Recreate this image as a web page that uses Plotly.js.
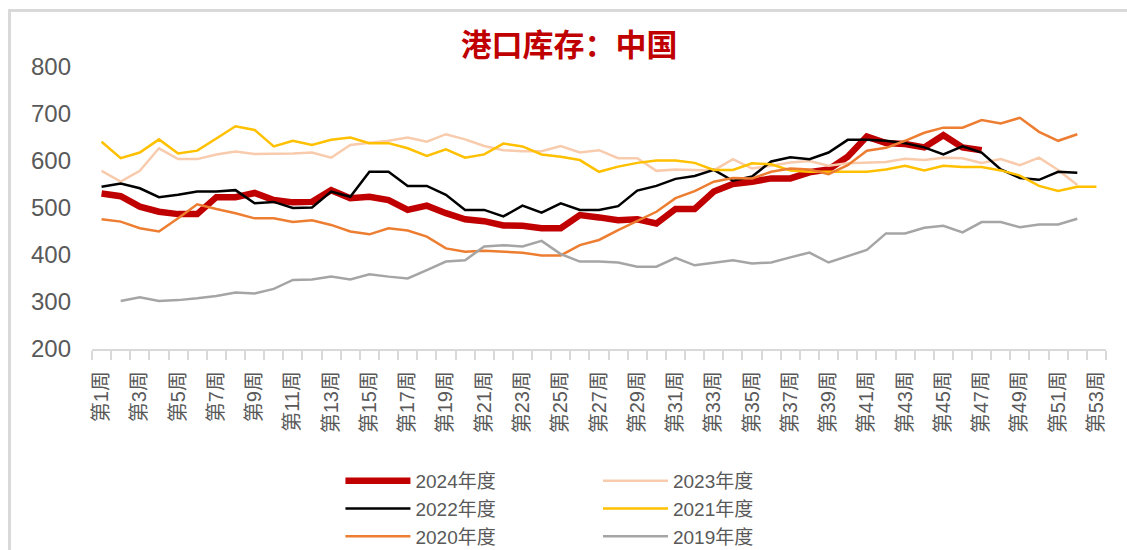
<!DOCTYPE html>
<html>
<head>
<meta charset="utf-8">
<script src="https://cdn.plot.ly/plotly-3.0.1.min.js"></script>
<style>
  body { margin: 0; background: #fff; }
  #frame { position: absolute; left: 8px; top: 9px; width: 1200px; height: 700px;
           border-top: 3px solid #D9D9D9; border-left: 3px solid #D9D9D9; }
  #chart { position: absolute; left: 0; top: 0; width: 1127px; height: 550px; }
</style>
</head>
<body>
<div id="frame"></div>
<div id="chart"></div>
<script>
// 周次 1..53
const weeks = Array.from({ length: 53 }, (_, i) => i + 1);
const weekLabels = weeks.map(w => '第' + w + '周');

const y2024 = [531, 525, 503, 492, 487, 487, 523, 523, 532, 517, 512, 513, 538, 521, 524, 517, 496, 505, 489, 476,
  472, 463, 462, 457, 457, 485, 480, 474, 476, 467, 498, 498, 535, 551, 556, 563, 563, 576, 582, 609,
  652, 638, 636, 629, 655, 629, 623];
const y2023 = [579, 556, 579, 627, 604, 604, 614, 620, 615, 615, 616, 618, 607, 634, 638, 643, 650, 641, 657, 646,
  632, 623, 621, 621, 632, 618, 623, 606, 606, 579, 582, 581, 580, 604, 584, 590, 597, 600, 590, 595,
  597, 598, 605, 602, 607, 606, 596, 604, 591, 607, 581, 549];
const y2022 = [545, 552, 542, 523, 528, 535, 535, 538, 510, 513, 500, 501, 535, 524, 577, 577, 547, 547, 528, 496,
  496, 482, 505, 490, 510, 496, 496, 504, 537, 547, 562, 568, 581, 558, 567, 599, 608, 604, 618, 645,
  645, 643, 638, 629, 614, 631, 618, 582, 564, 560, 577, 575];
const y2021 = [641, 606, 618, 646, 616, 622, 648, 674, 666, 631, 643, 634, 645, 650, 638, 638, 627, 611, 625, 607,
  614, 637, 631, 614, 609, 602, 577, 588, 596, 601, 601, 596, 581, 581, 595, 593, 580, 577, 577, 577,
  577, 582, 590, 580, 590, 587, 587, 580, 569, 547, 536, 545, 545];
const y2020 = [476, 471, 457, 450, 478, 508, 498, 489, 478, 478, 470, 474, 464, 450, 444, 457, 452, 439, 414, 407,
  409, 407, 405, 399, 399, 421, 432, 453, 472, 492, 521, 536, 556, 564, 563, 577, 584, 582, 572, 591,
  622, 628, 643, 660, 671, 671, 687, 680, 692, 662, 643, 657];
const y2019 = [null, 302, 310, 302, 304, 308, 313, 320, 318, 328, 347, 348, 354, 348, 359, 354, 350, 368, 386, 389,
  418, 421, 418, 430, 402, 386, 386, 384, 375, 375, 394, 378, 383, 389, 382, 384, 395, 405, 384, 398,
  411, 446, 446, 458, 462, 448, 470, 470, 459, 465, 465, 477];

const seriesNames = ['2024年度', '2023年度', '2022年度', '2021年度', '2020年度', '2019年度'];
const seriesData = [y2024, y2023, y2022, y2021, y2020, y2019];
const seriesColors = ['#C00000', '#F8CBAD', '#000000', '#FFC000', '#ED7D31', '#A5A5A5'];
const seriesWidths = [6.5, 2.5, 2.5, 2.5, 2.5, 2.5];
const seriesLegend = ['legend', 'legend2', 'legend', 'legend2', 'legend', 'legend2'];

const traces = seriesNames.map((name, i) => ({
  type: 'scatter',
  mode: 'lines',
  name: name,
  x: weeks.slice(0, seriesData[i].length),
  y: seriesData[i],
  line: { color: seriesColors[i], width: seriesWidths[i] },
  legend: seriesLegend[i],
  hoverinfo: 'skip'
}));

const legendFont = { family: 'Liberation Sans, Noto Sans CJK SC, sans-serif', size: 19, color: '#595959' };

const layout = {
  width: 1127,
  height: 550,
  margin: { l: 92, r: 21, t: 67, b: 201 },
  paper_bgcolor: 'rgba(0,0,0,0)',
  plot_bgcolor: 'rgba(0,0,0,0)',
  title: {
    text: '<b>港口库存：中国</b>',
    font: { family: 'Noto Sans CJK SC, sans-serif', size: 31, color: '#C00000' },
    x: 0.505, xanchor: 'center', y: 0.918, yanchor: 'middle'
  },
  xaxis: {
    range: [0.5, 53.5],
    automargin: false,
    tickvals: weeks.filter(w => w % 2 === 1),
    ticktext: weekLabels.filter((_, i) => i % 2 === 0),
    tickangle: -90,
    tickfont: { family: 'Liberation Sans, Noto Sans CJK SC, sans-serif', size: 20, color: '#595959' },
    ticks: '',
    ticklabelstandoff: 12,
    showline: true, linecolor: '#D9D9D9', linewidth: 2,
    showgrid: false, zeroline: false,
    minor: { tick0: 0.5, dtick: 1, ticks: 'outside', ticklen: 9, tickcolor: '#D9D9D9', tickwidth: 2, showgrid: false }
  },
  yaxis: {
    range: [200, 800],
    automargin: false,
    dtick: 100,
    tickfont: { family: 'Liberation Sans, sans-serif', size: 24, color: '#595959' },
    showline: false, showgrid: false, zeroline: false,
    ticks: '',
    ticklabelstandoff: 20
  },
  legend: {
    x: 0.245, xanchor: 'left', xref: 'paper',
    y: 0.16, yanchor: 'top', yref: 'container',
    orientation: 'v', font: legendFont, itemwidth: 65, tracegroupgap: 0,
    bgcolor: 'rgba(0,0,0,0)'
  },
  legend2: {
    x: 0.499, xanchor: 'left', xref: 'paper',
    y: 0.16, yanchor: 'top', yref: 'container',
    orientation: 'v', font: legendFont, itemwidth: 65, tracegroupgap: 0,
    bgcolor: 'rgba(0,0,0,0)'
  },
  showlegend: true
};

Plotly.newPlot('chart', traces, layout, { displayModeBar: false, staticPlot: true });
</script>
</body>
</html>
